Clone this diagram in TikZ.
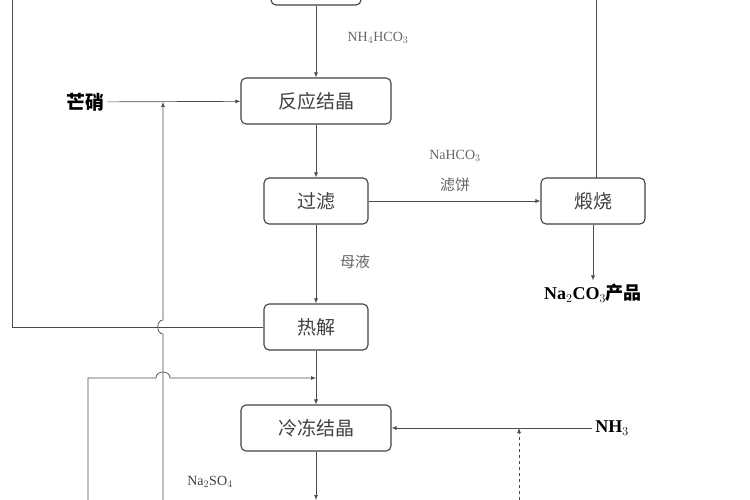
\documentclass[tikz,border=0pt]{standalone}
\usepackage{fontspec}
\setmainfont{Liberation Serif}
\newfontfamily\cjk{Noto Sans CJK SC}
\usetikzlibrary{arrows.meta}
\begin{document}
\begin{tikzpicture}[x=1pt,y=-1pt,
  box/.style={draw=black!75,line width=1.1pt,rounded corners=5pt,minimum height=46pt,font=\cjk\fontsize{19}{19}\selectfont,text=black!75},
  ln/.style={draw=black!70,line width=0.7pt},
  ar/.style={ln,-{Latex[length=5pt,width=4pt]}},
  lab/.style={text=black!60,font=\fontsize{14}{14}\selectfont},
  big/.style={font=\bfseries\fontsize{18}{18}\selectfont}]
\useasboundingbox (0,0) rectangle (750,500);
\node[box,minimum width=90pt] (top) at (316,-18) {};
\node[box,minimum width=150pt] (fy) at (316,101) {反应结晶};
\node[box,minimum width=104pt] (gl) at (316,201) {过滤};
\node[box,minimum width=104pt] (rj) at (316,327) {热解};
\node[box,minimum width=150pt] (ld) at (316,428) {冷冻结晶};
\node[box,minimum width=104pt] (ds) at (593,201) {煅烧};
\node[big] (prod) at (593,293) {Na$_2$CO$_3$\cjk 产品};
\node[big,font=\cjk\bfseries\fontsize{19}{19}\selectfont] (mx) at (85,102) {芒硝};
\node[big] (nh3) at (612,428) {NH$_3$};
\node[lab] at (378,38) {NH$_4$HCO$_3$};
\node[lab] at (455,156) {NaHCO$_3$};
\node[lab,font=\cjk\fontsize{15}{15}\selectfont] at (455,185) {滤饼};
\node[lab,font=\cjk\fontsize{15}{15}\selectfont] at (355,262) {母液};
\node[lab,text=black!75] at (210,482) {Na$_2$SO$_4$};
\coordinate (tl) at (12,-10);
\draw[ar] (top) -- (fy);
\draw[ar] (fy) -- (gl);
\draw[ar] (gl) -- (rj);
\draw[ar] (rj) -- (ld);
\draw[ar] (gl) -- (ds);
\draw[ar] (ds) -- (prod);
\draw[ln] (596,-10) -- (596,178);
\draw[ar] (mx) -- (fy);
\draw[ln] (rj.west) -- (12,327) -- (tl);
\draw[ar] (163,500) -- (163,334) .. controls (156,334) and (156,320) .. (163,320) -- (163,102);
\draw[ar] (88,500) -- (88,378) -- (156,378) .. controls (156,370) and (170,370) .. (170,378) -- (316,378);
\draw[ar] (nh3.west) -- (ld.east);
\draw[ln,dashed,-{Latex[length=5pt,width=4pt]}] (519,500) -- (519,428);
\draw[ar] (ld) -- (316,500);
\end{tikzpicture}
\end{document}
